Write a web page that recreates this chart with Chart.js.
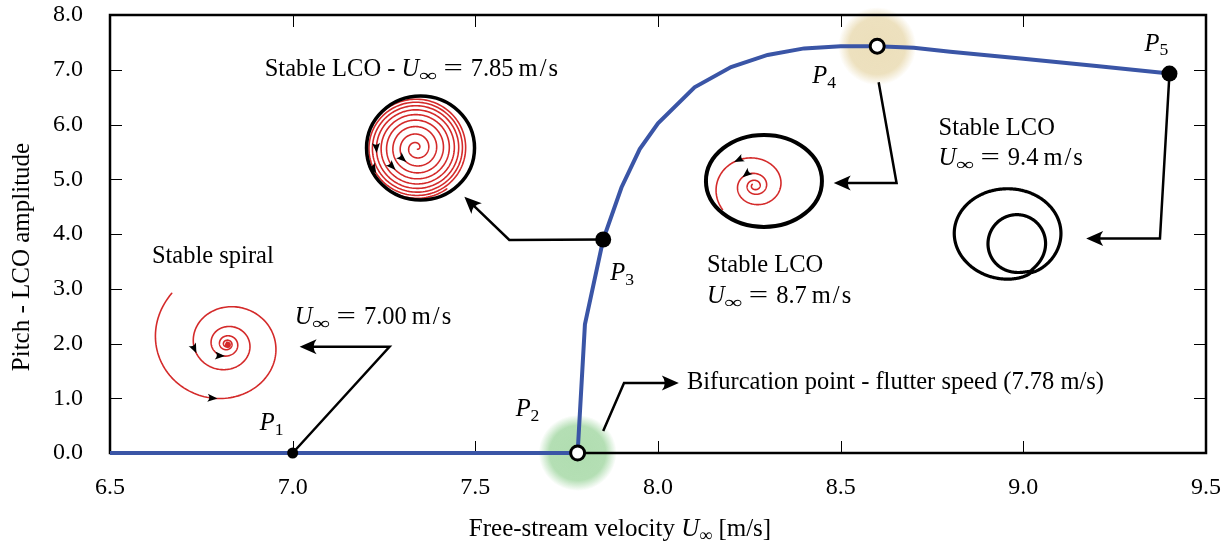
<!DOCTYPE html>
<html>
<head>
<meta charset="utf-8">
<script src="https://cdn.jsdelivr.net/npm/chart.js@4.4.1/dist/chart.umd.min.js"></script>
<style>
body { margin: 0; background: #fff; }
</style>
</head>
<body>
<canvas id="Chart" width="1227" height="547"></canvas>
<script>
// bifurcation curve (free-stream velocity vs pitch LCO amplitude)
const speed = [6.5, 7.0, 7.5, 7.78, 7.80, 7.85, 7.90, 7.95, 8.0, 8.1, 8.2, 8.3, 8.4, 8.5, 8.6, 8.7, 8.8, 9.0, 9.2, 9.4];
const amplitude = [0, 0, 0, 0, 2.35, 3.9, 4.85, 5.55, 6.02, 6.68, 7.05, 7.27, 7.39, 7.43, 7.43, 7.40, 7.33, 7.20, 7.07, 6.93];

// points P1..P5
const pointName = ['1', '2', '3', '4', '5'];
const pointX = [7.0, 7.78, 7.85, 8.6, 9.4];
const pointY = [0, 0, 3.9, 7.43, 6.93];
const pointOpen = [false, true, false, true, false];

// axis ticks
const xTicks = [6.5, 7.0, 7.5, 8.0, 8.5, 9.0, 9.5];
const yTicks = [0, 1, 2, 3, 4, 5, 6, 7, 8];

const FONT = '"Liberation Serif", "Times New Roman", serif';
const FS = 24;
const NS = 24.5;
const RED = '#d42a2a';

// label offsets from the points (px)
const labelOffset = [[-33, -23], [-62, -37], [7, 41], [-65, 37], [-25, -23]];

// U∞ = value m/s
function uinf(val) {
	return [['U', 'i'], ['\u221E', 's', 1.45], [6, 'g'], ['=', 'n', 1.4], [8, 'g'], [val, 'n'], [5, 'g'],
		['m', 'n'], [2, 'g'], ['/', 'n'], [2, 'g'], ['s', 'n']];
}

// text notes: [x, y(baseline), parts]
const notes = [
	[6.9235, 6.886, [['Stable LCO - ', 'n']].concat(uinf('7.85'))],
	[6.6148, 3.470, [['Stable spiral', 'n']]],
	[7.0055, 2.356, uinf('7.00')],
	[8.0792, 1.169, [['Bifurcation point - flutter speed (7.78 m/s)', 'n']]],
	[8.1339, 3.306, [['Stable LCO', 'n']]],
	[8.1339, 2.740, uinf('8.7')],
	[8.7678, 5.808, [['Stable LCO', 'n']]],
	[8.7678, 5.260, uinf('9.4')],
];

// arrows (data coords)
const arrows = [
	[[7.0, 0], [7.265, 1.94], [7.019, 1.94]],
	[[7.85, 3.9], [7.593, 3.89], [7.47, 4.68]],
	[[7.85, 0.40], [7.907, 1.28], [8.057, 1.28]],
	[[8.604, 6.77], [8.653, 4.93], [8.481, 4.93]],
	[[9.4, 6.93], [9.374, 3.92], [9.172, 3.92]],
];

//文字列の描画 (italic / subscript / gap parts)
function richText(ctx, parts, x, y, size, measureOnly) {
	let cx = x;
	for (const [t, st, sx] of parts) {
		if (st === 'g') { cx += t; continue; }
		let fs = size, dy = 0, it = false;
		const k = sx || 1;
		if (st === 'i') it = true;
		if (st === 's') { fs = size * 0.72; dy = size * 0.2; }
		ctx.font = (it ? 'italic ' : '') + fs + 'px ' + FONT;
		const w = ctx.measureText(t).width * k;
		if (!measureOnly) {
			ctx.save();
			ctx.translate(cx, y + dy);
			ctx.scale(k, 1);
			ctx.fillText(t, 0, 0);
			ctx.restore();
		}
		cx += w;
	}
	return cx - x;
}

function arrowHead(ctx, x1, y1, x2, y2, L, W) {
	const a = Math.atan2(y2 - y1, x2 - x1);
	ctx.save();
	ctx.translate(x2, y2);
	ctx.rotate(a);
	ctx.beginPath();
	ctx.moveTo(0, 0);
	ctx.lineTo(-L, -W);
	ctx.quadraticCurveTo(-L * 0.65, 0, -L, W);
	ctx.closePath();
	ctx.fill();
	ctx.restore();
}

function glow(ctx, x, y, rx, ry, rgb) {
	ctx.save();
	ctx.translate(x, y);
	ctx.scale(rx / 40, ry / 40);
	const g = ctx.createRadialGradient(0, 0, 0, 0, 0, 40);
	g.addColorStop(0, 'rgba(' + rgb + ',1)');
	g.addColorStop(0.72, 'rgba(' + rgb + ',0.95)');
	g.addColorStop(1, 'rgba(' + rgb + ',0)');
	ctx.fillStyle = g;
	ctx.beginPath();
	ctx.arc(0, 0, 40, 0, Math.PI * 2);
	ctx.fill();
	ctx.restore();
}

// spiral path: rf(t) radius, angle goes counter-clockwise on screen
function spiral(cx, cy, rf, th0, turns, sx, sy, n) {
	const pts = [];
	for (let i = 0; i <= n; i++) {
		const t = i / n;
		const th = th0 - Math.PI * 2 * turns * t;
		const r = rf(t);
		pts.push([cx + r * Math.cos(th) * sx, cy + r * Math.sin(th) * sy]);
	}
	return pts;
}

function strokePts(ctx, pts) {
	ctx.beginPath();
	ctx.moveTo(pts[0][0], pts[0][1]);
	for (let i = 1; i < pts.length; i++) ctx.lineTo(pts[i][0], pts[i][1]);
	ctx.stroke();
}

function pathArrows(ctx, pts, fracs) {
	ctx.fillStyle = '#000';
	for (const f of fracs) {
		const i = Math.max(2, Math.min(pts.length - 3, Math.round(f * (pts.length - 1))));
		arrowHead(ctx, pts[i - 2][0], pts[i - 2][1], pts[i][0], pts[i][1], 10, 4);
	}
}

const annotate = {
	id: 'annotate',
	beforeDatasetsDraw(chart) {
		const ctx = chart.ctx, xs = chart.scales.x, ys = chart.scales.y, a = chart.chartArea;
		ctx.save();
		// glows at the bifurcation point and the peak
		glow(ctx, xs.getPixelForValue(7.78), ys.getPixelForValue(0), 39, 38, '176,221,176');
		glow(ctx, xs.getPixelForValue(8.6), ys.getPixelForValue(7.43), 39, 39, '236,223,187');
		// frame + inward ticks
		ctx.strokeStyle = '#000';
		ctx.lineWidth = 1;
		ctx.beginPath();
		for (const v of xTicks) {
			const p = Math.round(xs.getPixelForValue(v)) + 0.5;
			ctx.moveTo(p, a.bottom); ctx.lineTo(p, a.bottom - 12);
			ctx.moveTo(p, a.top); ctx.lineTo(p, a.top + 12);
		}
		for (const v of yTicks) {
			const p = Math.round(ys.getPixelForValue(v)) + 0.5;
			ctx.moveTo(a.left, p); ctx.lineTo(a.left + 12, p);
			ctx.moveTo(a.right, p); ctx.lineTo(a.right - 12, p);
		}
		ctx.stroke();
		ctx.lineWidth = 2.5;
		ctx.strokeRect(a.left, a.top, a.right - a.left, a.bottom - a.top);
		ctx.restore();
	},
	afterDraw(chart) {
		const ctx = chart.ctx, xs = chart.scales.x, ys = chart.scales.y;
		const X = v => xs.getPixelForValue(v), Y = v => ys.getPixelForValue(v);
		ctx.save();
		ctx.fillStyle = '#000';
		ctx.textBaseline = 'alphabetic';
		ctx.textAlign = 'left';

		// axis titles
		const xt = [['Free-stream velocity ', 'n'], ['U', 'i'], ['\u221E', 's'], [' [m/s]', 'n']];
		const w = richText(ctx, xt, 0, 0, 25, true);
		richText(ctx, xt, 620 - w / 2, 536, 25);
		ctx.save();
		ctx.translate(29, 257);
		ctx.rotate(-Math.PI / 2);
		ctx.font = '25px ' + FONT;
		ctx.textAlign = 'center';
		ctx.fillText('Pitch - LCO amplitude', 0, 0);
		ctx.restore();

		// notes
		for (const [nx, ny, parts] of notes) richText(ctx, parts, X(nx), Y(ny), NS);

		// point labels
		for (let i = 0; i < pointName.length; i++) {
			const px = X(pointX[i]) + labelOffset[i][0], py = Y(pointY[i]) + labelOffset[i][1];
			richText(ctx, [['P', 'i'], [pointName[i], 's']], px, py, NS);
		}

		// arrows
		ctx.strokeStyle = '#000';
		ctx.lineWidth = 2.5;
		ctx.lineJoin = 'miter';
		for (const ar of arrows) {
			const p = ar.map(q => [X(q[0]), Y(q[1])]);
			const n = p.length;
			const [x1, y1] = p[n - 2], [x2, y2] = p[n - 1];
			const d = Math.hypot(x2 - x1, y2 - y1);
			const ex = x2 - (x2 - x1) / d * 10, ey = y2 - (y2 - y1) / d * 10;
			ctx.beginPath();
			ctx.moveTo(p[0][0], p[0][1]);
			for (let i = 1; i < n - 1; i++) ctx.lineTo(p[i][0], p[i][1]);
			ctx.lineTo(ex, ey);
			ctx.stroke();
			arrowHead(ctx, x1, y1, x2, y2, 17, 7.5);
		}

		// phase portraits
		ctx.lineJoin = 'round';
		ctx.lineCap = 'round';
		// stable spiral (7.00 m/s)
		let c = [X(6.82), Y(1.99)];
		const k1 = 0.12 * 2 * Math.PI * 4.9;
		let sp = spiral(c[0], c[1], t => 78 * Math.exp(-k1 * t), Math.PI * 1.25, 4.9, 1.0, 0.92, 700);
		ctx.strokeStyle = RED;
		ctx.lineWidth = 1.6;
		strokePts(ctx, sp);
		ctx.fillStyle = RED;
		ctx.beginPath(); ctx.arc(c[0] + 1, c[1] + 1, 3, 0, Math.PI * 2); ctx.fill();
		pathArrows(ctx, sp, [0.071, 0.24, 0.48]);

		// LCO 7.85 m/s
		c = [X(7.35), Y(5.57)];
		const k2 = 1.35;
		sp = spiral(c[0] - 4, c[1], t => 1.5 + 50 * (1 - Math.exp(-k2 * t)) / (1 - Math.exp(-k2)), Math.PI * 0.3, 9, 1.0, 0.98, 1400);
		ctx.strokeStyle = RED;
		ctx.lineWidth = 1.6;
		strokePts(ctx, sp);
		ctx.strokeStyle = '#000';
		ctx.lineWidth = 3.5;
		ctx.beginPath(); ctx.ellipse(c[0], c[1], 54, 52, 0, 0, Math.PI * 2); ctx.stroke();
		pathArrows(ctx, sp, [0.2, 0.42, 0.63, 0.86]);

		// LCO 8.7 m/s
		c = [X(8.29), Y(4.97)];
		sp = spiral(c[0] - 9, c[1] + 5, t => 3 * Math.pow(13, t), Math.PI * (0.78 + 2 * 3.2), 3.2, 1.08, 0.95, 600);
		ctx.strokeStyle = RED;
		ctx.lineWidth = 1.6;
		strokePts(ctx, sp);
		ctx.strokeStyle = '#000';
		ctx.lineWidth = 4;
		ctx.beginPath(); ctx.ellipse(c[0], c[1], 58, 46, 0, 0, Math.PI * 2); ctx.stroke();
		pathArrows(ctx, sp, [0.62, 0.92]);

		// LCO 9.4 m/s (two loops)
		c = [X(8.964), Y(3.93)];
		const pts = [], al = 63 * Math.PI / 180;
		for (let i = 0; i <= 900; i++) {
			const ph = al + 4 * Math.PI * i / 900;
			const s = Math.sin((ph - al) / 2);
			const r = 41 + 14 * Math.sign(s) * Math.pow(Math.abs(s), 0.4);
			const b = (55 - r) / 28;
			const cx = c[0] - 2 + 8 * b, cy = c[1] - 3 + 7 * b;
			pts.push([cx + r * Math.cos(ph), cy + r * Math.sin(ph) * (0.84 + 0.16 * b)]);
		}
		ctx.strokeStyle = '#000';
		ctx.lineWidth = 3.2;
		strokePts(ctx, pts);
		ctx.restore();
	}
};

//描画エリアの設定
let lineCtx = document.getElementById('Chart');
let lineConfig = {
	type: 'line',
	data: {
		datasets: [{
			label: 'points',
			data: pointX.map((v, i) => ({ x: v, y: pointY[i] })),
			showLine: false,
			pointRadius: [5.5, 7, 8, 7, 8],
			pointBorderWidth: pointOpen.map(o => o ? 3 : 0),
			pointBackgroundColor: pointOpen.map(o => o ? '#fff' : '#000'),
			pointBorderColor: '#000',
			clip: false,
			order: 0,
		}, {
			label: 'amplitude',
			data: speed.map((v, i) => ({ x: v, y: amplitude[i] })),
			borderColor: '#3a55a6',
			borderWidth: 4,
			pointRadius: 0,
			tension: 0,
			clip: false,
			order: 1,
		}],
	},
	options: {
		responsive: false,
		animation: false,
		layout: { padding: { top: 15, right: 21, left: 0, bottom: 0 } },
		plugins: { legend: { display: false }, tooltip: { enabled: false } },
		scales: {
			x: {
				type: 'linear', min: 6.5, max: 9.5,
				afterBuildTicks: s => { s.ticks = xTicks.map(v => ({ value: v })); },
				ticks: { callback: v => Number(v).toFixed(1), color: '#000', font: { family: FONT, size: FS }, padding: 20, maxRotation: 0, autoSkip: false },
				grid: { display: false, drawTicks: false },
				border: { display: false },
				afterFit: s => { s.height = 94; s.paddingLeft = 0; s.paddingRight = 0; },
			},
			y: {
				min: 0, max: 8,
				afterBuildTicks: s => { s.ticks = yTicks.map(v => ({ value: v })); },
				ticks: { callback: v => Number(v).toFixed(1), color: '#000', font: { family: FONT, size: FS }, padding: 27 },
				grid: { display: false, drawTicks: false },
				border: { display: false },
				afterFit: s => { s.width = 110; s.paddingTop = 0; s.paddingBottom = 0; },
			},
		},
	},
	plugins: [annotate],
};
let lineChart = new Chart(lineCtx, lineConfig);
</script>
</body>
</html>
